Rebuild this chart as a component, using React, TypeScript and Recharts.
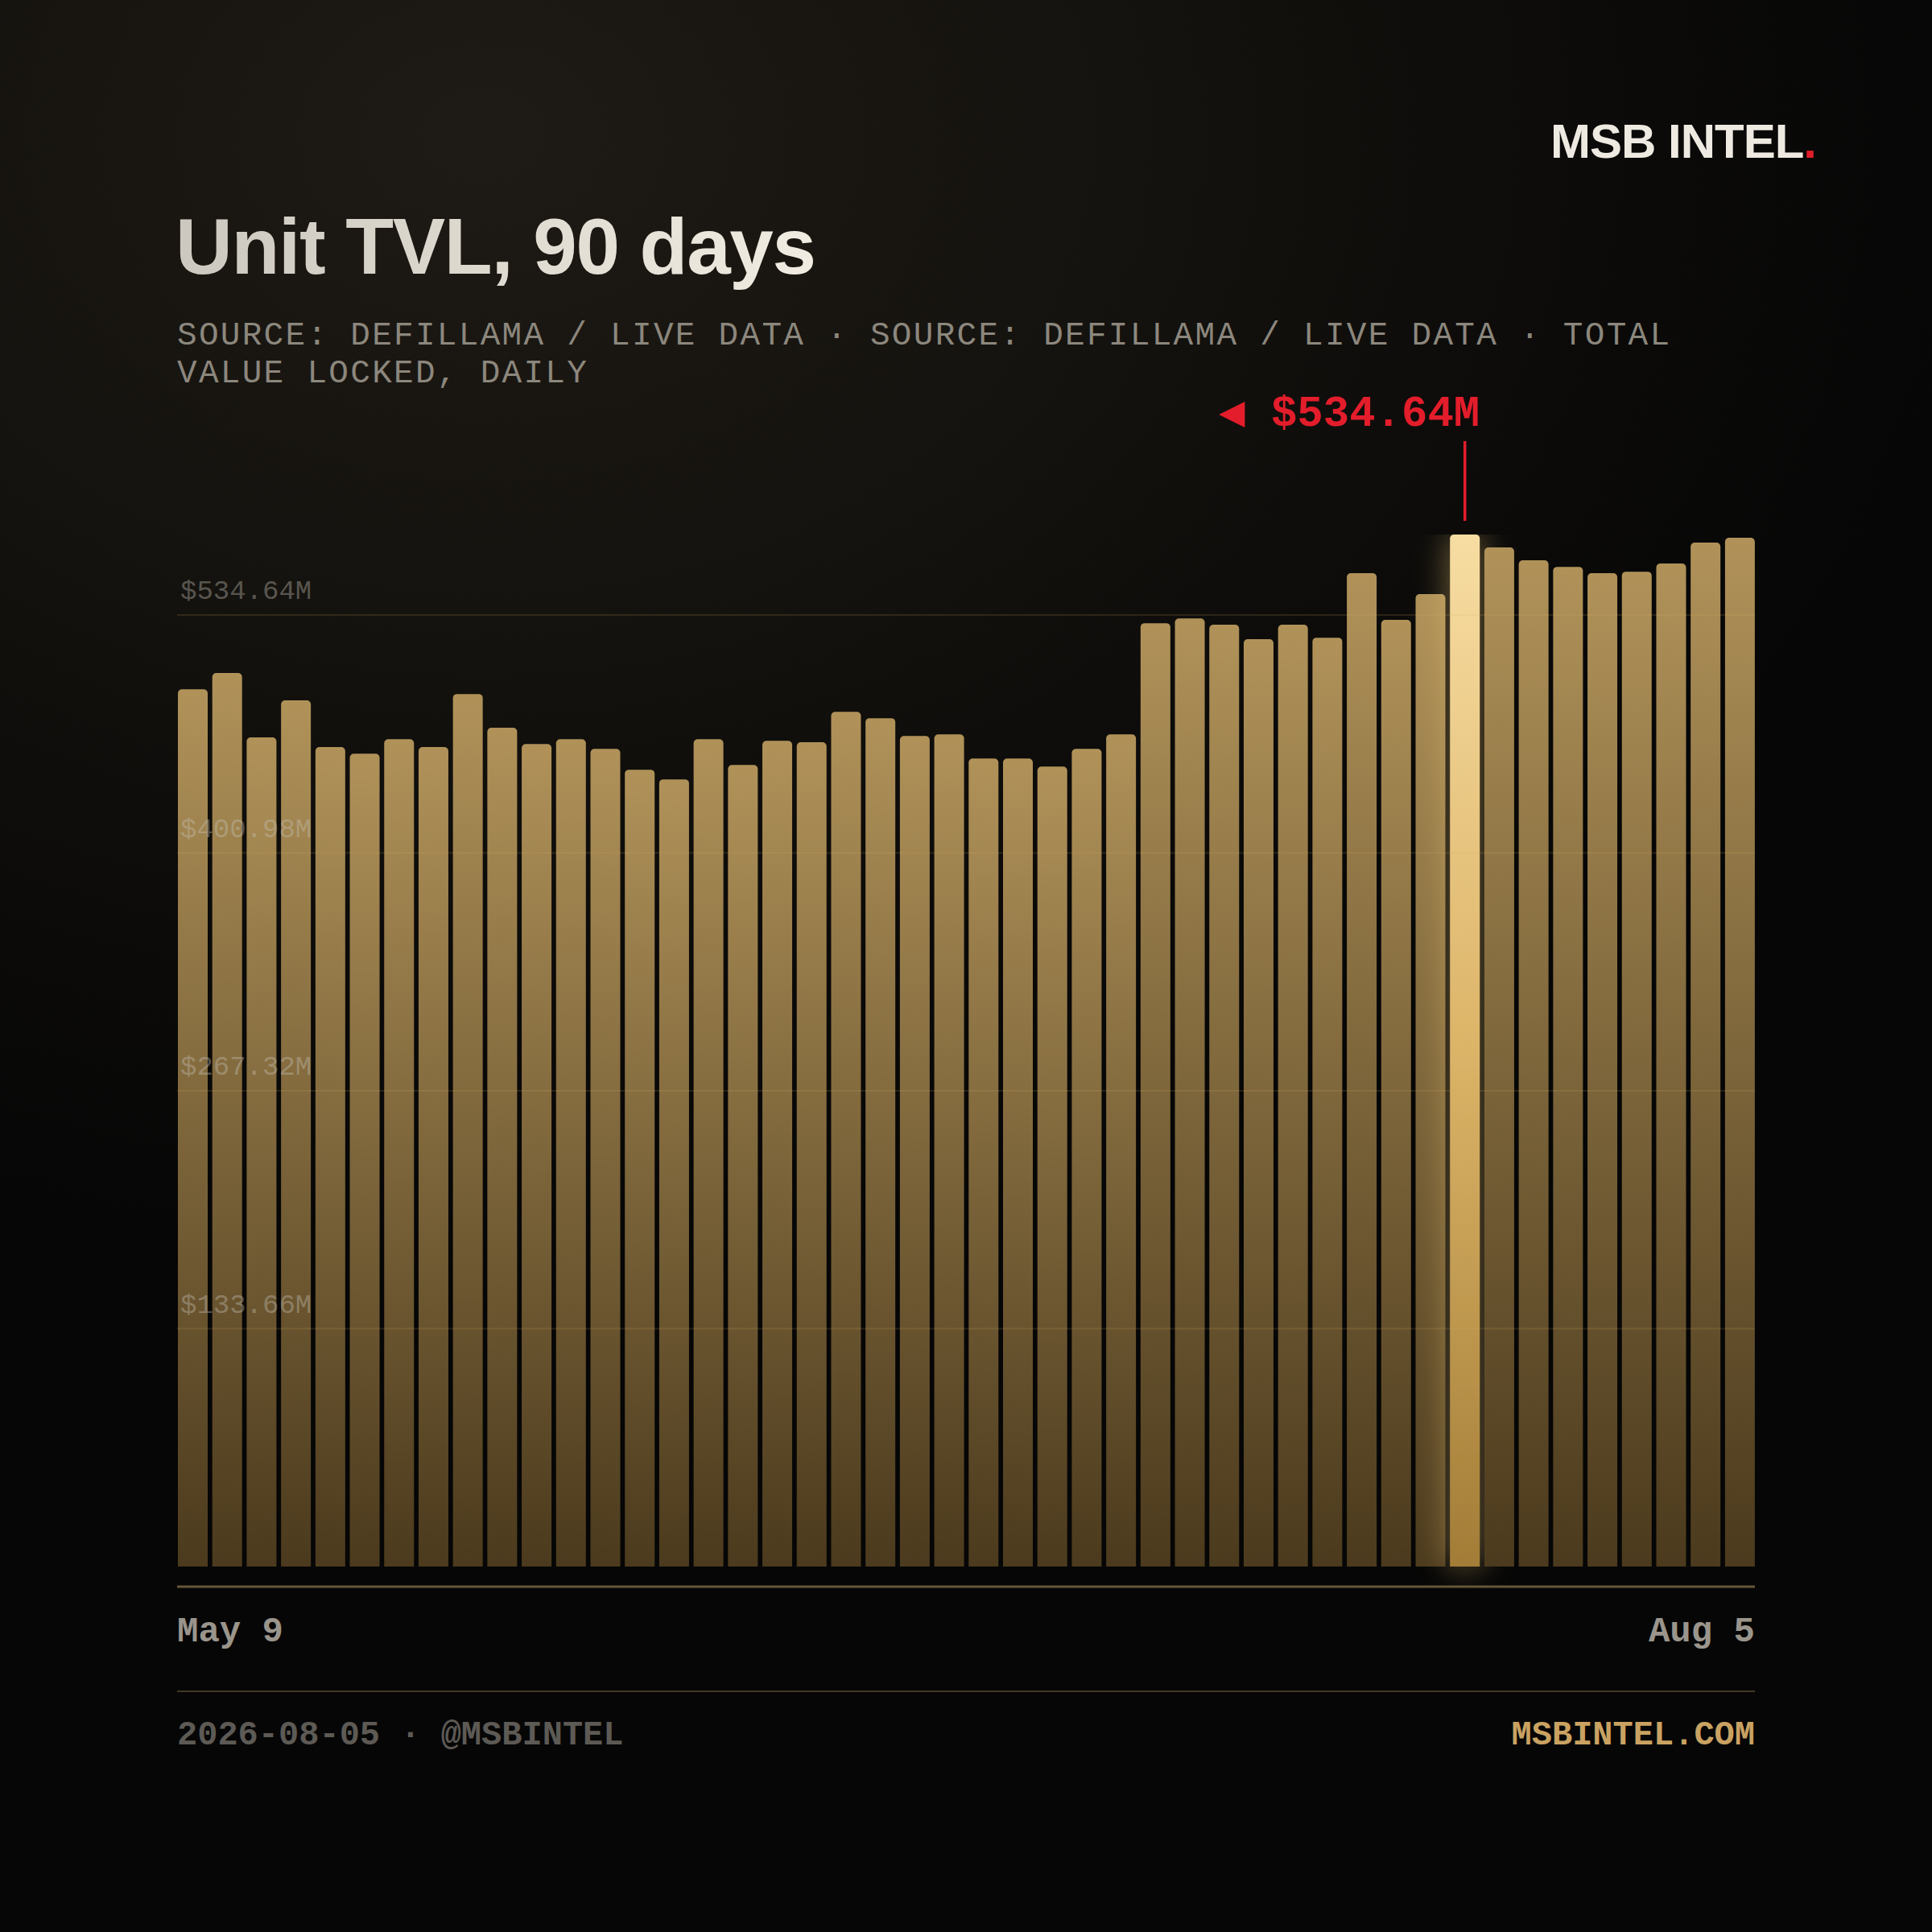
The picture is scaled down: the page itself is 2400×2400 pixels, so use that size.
import React from 'react';
import { BarChart, Bar, XAxis, YAxis, Cell, LabelList } from 'recharts';

// ---------- data ----------
const dates = [
  'May 9', 'May 11', 'May 13', 'May 15', 'May 17', 'May 19', 'May 21', 'May 23', 'May 25', 'May 27', 'May 29', 'May 31',
  'Jun 2', 'Jun 4', 'Jun 6', 'Jun 8', 'Jun 10', 'Jun 12', 'Jun 14', 'Jun 16', 'Jun 18', 'Jun 20', 'Jun 22', 'Jun 24', 'Jun 26', 'Jun 28', 'Jun 30',
  'Jul 2', 'Jul 4', 'Jul 6', 'Jul 8', 'Jul 10', 'Jul 12', 'Jul 14', 'Jul 16', 'Jul 18', 'Jul 20', 'Jul 22', 'Jul 24', 'Jul 26', 'Jul 28', 'Jul 30',
  'Aug 1', 'Aug 3', 'Aug 4', 'Aug 5',
];

const tvl = [
  454.5, 462.9, 429.5, 448.7, 424.5, 421.1, 428.6, 424.5, 452.0, 434.5,
  426.1, 428.6, 423.6, 412.8, 407.8, 428.6, 415.3, 427.8, 427.0, 442.8,
  439.5, 430.3, 431.1, 418.6, 418.6, 414.4, 423.6, 431.1, 488.7, 491.2,
  487.9, 480.4, 487.9, 481.2, 514.6, 490.4, 503.8, 534.64, 528.0, 521.3,
  517.9, 514.6, 515.4, 519.6, 530.5, 533.0,
];

const gridTicks = [133.66, 267.32, 400.98, 534.64];
const gridTickLabels = ['$133.66M', '$267.32M', '$400.98M', '$534.64M'];
const xTickValues = ['May 9', 'Aug 5'];
const peakLabel = '◀ $534.64M';

const data = dates.map((d, i) => ({ date: d, tvl: tvl[i] }));
const maxVal = Math.max(...tvl);

// ---------- layout ----------
const W = 2400;
const PL = 220;
const PR = 2180;
const PT = 664;
const PB = 1971;
const XH = 120;
const YW = 1; // width of the (invisible) grid axis strip
const ZERO_GAP = 25;
const GRID_TOP_Y = 764;

const vDomain = [-(maxVal * ZERO_GAP) / (PB - PT - ZERO_GAP), maxVal];
const ppu = (PB - ZERO_GAP - GRID_TOP_Y) / gridTicks[gridTicks.length - 1];
const gDomain = [-ZERO_GAP / ppu, (PB - ZERO_GAP - PT) / ppu];

const MONO = '"Liberation Mono", "Cousine", monospace';
const SANS = '"Liberation Sans", Arial, Helvetica, sans-serif';
const RED = '#e31d2b';

const XTick = (props: any) => {
  const { payload } = props;
  const first = payload.value === dates[0];
  return (
    <text
      x={first ? PL : PR}
      y={PB + 68}
      textAnchor={first ? 'start' : 'end'}
      fontFamily={MONO}
      fontWeight={700}
      fontSize={44}
      fill="#9a958c"
    >
      {payload.value}
    </text>
  );
};

const GridTick = (props: any) => {
  const { y, payload } = props;
  const i = gridTicks.indexOf(payload.value);
  return (
    <g>
      <line x1={PL} x2={PR} y1={y} y2={y} stroke="rgba(212,175,100,0.15)" strokeWidth={2} />
      <text x={PL + 4} y={y - 20} fontFamily={MONO} fontSize={34} fill="rgba(200,195,185,0.4)">
        {i >= 0 ? gridTickLabels[i] : ''}
      </text>
    </g>
  );
};

const PeakAnnot = (props: any) => {
  const vb = props.viewBox || props;
  const { x, y, width } = vb;
  if (props.value !== maxVal || x == null) return null;
  const cx = x + width / 2;
  return (
    <g>
      <line x1={cx} x2={cx} y1={y - 116} y2={y - 17} stroke={RED} strokeWidth={3.5} />
      <text x={x + width} y={y - 135} textAnchor="end" fontFamily={MONO} fontWeight={700} fontSize={54} fill={RED}>
        {peakLabel}
      </text>
    </g>
  );
};

export default function App() {
  return (
    <div
      style={{
        position: 'absolute',
        left: 0,
        top: 0,
        width: W,
        height: W,
        overflow: 'hidden',
        background:
          'radial-gradient(ellipse 80% 60% at 25% 7%, #1e1a15 0%, #15130f 40%, #0b0a09 75%, #060606 100%)',
      }}
    >
      <div style={{ position: 'absolute', left: 0, top: 0 }}>
        <BarChart
          width={W}
          height={W}
          data={data}
          margin={{ top: PT, left: PL - YW, right: W - PR, bottom: W - PB - XH }}
        >
          <defs>
            <linearGradient id="barGrad" x1="0" y1="0" x2="0" y2="1">
              <stop offset="0%" stopColor="#b09259" />
              <stop offset="100%" stopColor="#4b3a1d" />
            </linearGradient>
            <linearGradient id="hlGrad" x1="0" y1="0" x2="0" y2="1">
              <stop offset="0%" stopColor="#f7dda2" />
              <stop offset="50%" stopColor="#dcb468" />
              <stop offset="100%" stopColor="#a37d37" />
            </linearGradient>
            <filter id="glow" x="-200%" y="-6%" width="500%" height="112%">
              <feGaussianBlur in="SourceAlpha" stdDeviation="20" result="blur" />
              <feFlood floodColor="#f0c874" floodOpacity="0.5" />
              <feComposite in2="blur" operator="in" result="glowc" />
              <feMerge>
                <feMergeNode in="glowc" />
                <feMergeNode in="SourceGraphic" />
              </feMerge>
            </filter>
          </defs>
          <XAxis
            dataKey="date"
            ticks={xTickValues}
            interval={0}
            height={XH}
            padding={{ left: -2, right: -2.6 }}
            tickLine={false}
            axisLine={{ stroke: '#665639', strokeWidth: 3 }}
            tick={XTick}
          />
          <YAxis yAxisId="v" type="number" domain={vDomain} allowDataOverflow hide />
          <Bar dataKey="tvl" yAxisId="v" barSize={37} radius={[5, 5, 0, 0]} isAnimationActive={false}>
            {data.map((d, i) => (
              <Cell
                key={i}
                fill={d.tvl === maxVal ? 'url(#hlGrad)' : 'url(#barGrad)'}
                filter={d.tvl === maxVal ? 'url(#glow)' : undefined}
              />
            ))}
            <LabelList dataKey="tvl" content={PeakAnnot} />
          </Bar>
          <YAxis
            yAxisId="g"
            type="number"
            domain={gDomain}
            allowDataOverflow
            ticks={gridTicks}
            interval={0}
            width={YW}
            axisLine={false}
            tickLine={false}
            tick={GridTick}
          />
        </BarChart>
      </div>
      <svg width={W} height={W} style={{ position: 'absolute', left: 0, top: 0, pointerEvents: 'none' }}>
        <defs>
          <linearGradient id="titleGrad" x1="0" y1="0" x2="1" y2="0">
            <stop offset="0%" stopColor="#cdc8bf" />
            <stop offset="100%" stopColor="#f1ece1" />
          </linearGradient>
        </defs>
        <text x={2256} y={196} textAnchor="end" fontFamily={SANS} fontWeight={700} fontSize={60} letterSpacing={-1.0} fill="#eeeae2">
          MSB INTEL<tspan fill={RED}>.</tspan>
        </text>
        <text x={218} y={340} fontFamily={SANS} fontWeight={700} fontSize={98} letterSpacing={-1.3} fill="url(#titleGrad)">
          Unit TVL, 90 days
        </text>
        <text x={PL} y={428} fontFamily={MONO} fontSize={41} letterSpacing={2.3} fill="#8c877d">
          SOURCE: DEFILLAMA / LIVE DATA · SOURCE: DEFILLAMA / LIVE DATA · TOTAL
        </text>
        <text x={PL} y={475} fontFamily={MONO} fontSize={41} letterSpacing={2.3} fill="#8c877d">
          VALUE LOCKED, DAILY
        </text>
        <line x1={PL} x2={PR} y1={2101} y2={2101} stroke="#433725" strokeWidth={2} />
        <text x={PL} y={2167} fontFamily={MONO} fontWeight={700} fontSize={42} fill="#5d5a55">
          2026-08-05 · @MSBINTEL
        </text>
        <text x={PR} y={2167} textAnchor="end" fontFamily={MONO} fontWeight={700} fontSize={42} fill="#c9a262">
          MSBINTEL.COM
        </text>
      </svg>
    </div>
  );
}
